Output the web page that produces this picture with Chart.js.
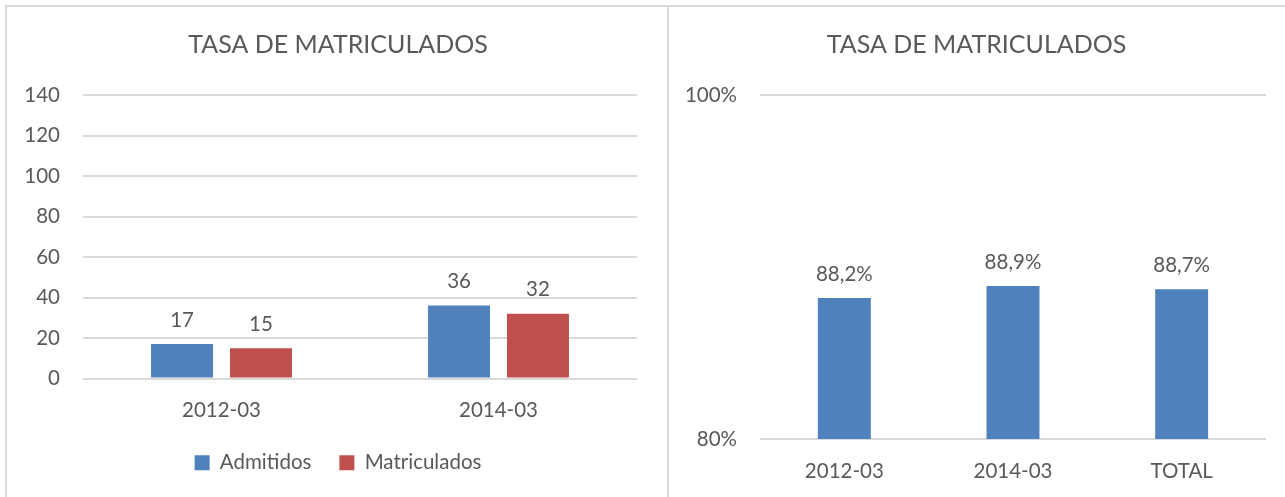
<!DOCTYPE html>
<html>
<head>
<meta charset="utf-8">
<script src="https://cdn.jsdelivr.net/npm/chart.js@4/dist/chart.umd.min.js"></script>
<style>
    html, body { margin: 0; padding: 0; background: #fff; overflow: hidden; }
    body { width: 1285px; height: 497px; position: relative; }
    .box { position: absolute; border: 2px solid #d9d9d9; box-sizing: border-box; }
    #leftBox { left: 5px; top: 5px; width: 664px; height: 560px; }
    #rightBox { left: 667px; top: 5px; width: 640px; height: 560px; border-left: none; }
    canvas { position: absolute; }
    #leftChart { left: 7px; top: 7px; }
    #rightChart { left: 668px; top: 7px; }
</style>
</head>
<body>
<div class="box" id="leftBox"></div>
<div class="box" id="rightBox"></div>
<canvas id="leftChart" width="662" height="520" style="width:662px;height:520px"></canvas>
<canvas id="rightChart" width="617" height="490" style="width:617px;height:490px"></canvas>
<script>
// data
const titleText = "TASA DE MATRICULADOS"
const periods = ["2012-03", "2014-03"]
const admitidos = [17, 36]
const matriculados = [15, 32]
const rateLabels = ["2012-03", "2014-03", "TOTAL"]
const rateValues = [88.2, 88.9, 88.7]

const textColor = "#595959"
const gridColor = "#d9d9d9"
const blue = "#4F81BD"
const red = "#C0504D"

Chart.defaults.font.family = "Lato, 'Open Sans', sans-serif"
Chart.defaults.color = textColor

// draws the value above each bar
const valueLabels = {
    id: "valueLabels",
    afterDatasetsDraw(chart, args, opts) {
        let ctx = chart.ctx
        ctx.save()
        ctx.fillStyle = textColor
        ctx.font = "20.5px Lato, 'Open Sans', sans-serif"
        ctx.textAlign = "center"
        ctx.textBaseline = "middle"
        chart.data.datasets.forEach((ds, i) => {
            chart.getDatasetMeta(i).data.forEach((bar, j) => {
                ctx.fillText(opts.format(ds.data[j]), bar.x, bar.y - 24)
            })
        })
        ctx.restore()
    }
}

function titleOptions() {
    return {
        display: true,
        text: titleText,
        color: textColor,
        font: { size: 25, weight: "normal" },
        padding: { top: 23, bottom: 35 }
    }
}

// empty axis on the right, only used to keep space so title/legend stay centred on the box
function spacerAxis(width) {
    return {
        position: "right",
        grid: { display: false },
        border: { display: false },
        ticks: { display: false },
        afterFit(scale) { scale.width = width }
    }
}

function drawLeftChart() {
    new Chart(document.getElementById("leftChart").getContext("2d"), {
        type: "bar",
        data: {
            labels: periods,
            datasets: [
                { label: "Admitidos", data: admitidos, backgroundColor: blue },
                { label: "Matriculados", data: matriculados, backgroundColor: red }
            ]
        },
        options: {
            responsive: false,
            animation: false,
            categoryPercentage: 0.57,
            barPercentage: 0.785,
            layout: { padding: { left: 0, right: 0, top: 0, bottom: 44 } },
            plugins: {
                title: titleOptions(),
                legend: {
                    position: "bottom",
                    labels: {
                        boxWidth: 15,
                        boxHeight: 15,
                        padding: 28,
                        color: textColor,
                        font: { size: 20.5 }
                    }
                },
                tooltip: { enabled: false },
                valueLabels: { format: v => String(v) }
            },
            scales: {
                x: {
                    grid: { display: false },
                    border: { display: false },
                    ticks: { padding: 12, color: textColor, font: { size: 20.5 } },
                    afterFit(scale) { scale.height = 46 }
                },
                y: {
                    min: 0,
                    max: 140,
                    ticks: { stepSize: 20, padding: 23, color: textColor, font: { size: 20.5 } },
                    grid: { color: gridColor, lineWidth: 2, drawTicks: false },
                    border: { display: false },
                    afterFit(scale) { scale.width = 76 }
                },
                spacer: spacerAxis(32)
            }
        },
        plugins: [valueLabels]
    })
}

function drawRightChart() {
    new Chart(document.getElementById("rightChart").getContext("2d"), {
        type: "bar",
        data: {
            labels: rateLabels,
            datasets: [
                { label: "Tasa", data: rateValues, backgroundColor: blue }
            ]
        },
        options: {
            responsive: false,
            animation: false,
            categoryPercentage: 1,
            barPercentage: 0.314,
            layout: { padding: { left: 0, right: 0, top: 0, bottom: 0 } },
            plugins: {
                title: titleOptions(),
                legend: { display: false },
                tooltip: { enabled: false },
                valueLabels: { format: v => v.toFixed(1).replace(".", ",") + "%" }
            },
            scales: {
                x: {
                    grid: { display: false },
                    border: { display: false },
                    ticks: { padding: 12, color: textColor, font: { size: 20.5 } },
                    afterFit(scale) { scale.height = 58 }
                },
                y: {
                    min: 80,
                    max: 100,
                    ticks: { stepSize: 20, padding: 23, color: textColor, font: { size: 20.5 }, callback: v => v + "%" },
                    grid: { color: gridColor, lineWidth: 2, drawTicks: false },
                    border: { display: false },
                    afterFit(scale) { scale.width = 92 }
                },
                spacer: spacerAxis(19)
            }
        },
        plugins: [valueLabels]
    })
}

drawLeftChart()
drawRightChart()
</script>
</body>
</html>
